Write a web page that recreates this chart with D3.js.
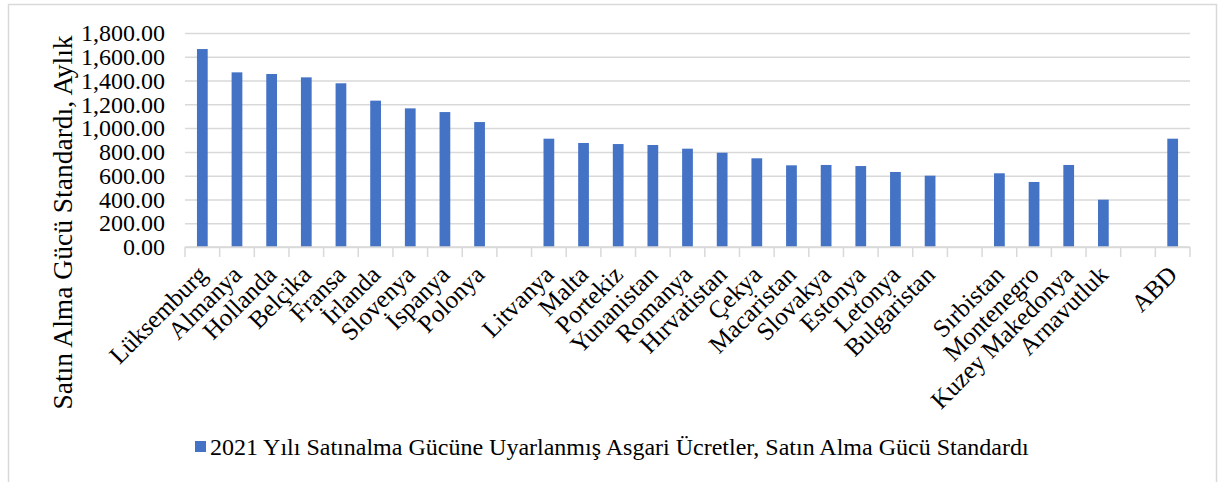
<!DOCTYPE html>
<html>
<head>
<meta charset="utf-8">
<script src="https://cdn.jsdelivr.net/npm/d3@7"></script>
<style>
  body { margin: 0; background: #fff; }
</style>
</head>
<body>
<div id="chart"></div>
<script>
// countries, with empty slots where the original leaves gaps between groups
var countries = ["Lüksemburg", "Almanya", "Hollanda", "Belçika", "Fransa", "İrlanda", "Slovenya", "İspanya", "Polonya", "",
  "Litvanya", "Malta", "Portekiz", "Yunanistan", "Romanya", "Hırvatistan", "Çekya", "Macaristan", "Slovakya", "Estonya", "Letonya", "Bulgaristan", "",
  "Sırbistan", "Montenegro", "Kuzey Makedonya", "Arnavutluk", "",
  "ABD"];
var wages = [1665, 1469, 1455, 1427, 1377, 1231, 1166, 1135, 1051, null,
  911, 875, 866, 858, 827, 793, 746, 687, 690, 681, 631, 600, null,
  620, 547, 690, 398, null,
  911];
var yTicks = [0, 200, 400, 600, 800, 1000, 1200, 1400, 1600, 1800];
var seriesName = "2021 Yılı Satınalma Gücüne Uyarlanmış Asgari Ücretler, Satın Alma Gücü Standardı";
var yTitle = "Satın Alma Gücü Standardı, Aylık";

var W = 1219, H = 482;
var plotLeft = 185, plotRight = 1190, plotTop = 33, plotBottom = 247;
var barColor = "#4472c4", gridColor = "#d9d9d9";
var serif = "'Liberation Serif', 'Times New Roman', serif";

var svg = d3.select("#chart").append("svg")
  .attr("width", W)
  .attr("height", H);

// chart frame (bottom runs past the picture)
svg.append("rect")
  .attr("x", 8.5).attr("y", 4.5)
  .attr("width", 1208).attr("height", 500)
  .style("fill", "#fff")
  .style("stroke", gridColor)
  .style("stroke-width", 1.5);

var x = d3.scaleBand()
  .domain(d3.range(countries.length))
  .range([plotLeft, plotRight])
  .paddingInner(0.69)
  .paddingOuter(0.345);

var y = d3.scaleLinear()
  .domain([0, 1800])
  .range([plotBottom, plotTop]);

// gridlines + y labels
var yAxis = svg.append("g")
  .attr("transform", "translate(" + plotLeft + ",0)")
  .call(d3.axisLeft(y).tickValues(yTicks).tickSize(-(plotRight - plotLeft)).tickPadding(20).tickFormat(d3.format(",.2f")));
yAxis.select(".domain").remove();
yAxis.selectAll("line").style("stroke", gridColor).style("stroke-width", 1.5);
yAxis.selectAll("text")
  .style("font-size", "24px")
  .style("font-family", serif)
  .attr("fill", "#000");

// bars
svg.append("g").selectAll("rect")
  .data(wages.map(function(v, i) { return {i: i, v: v}; }).filter(function(d) { return d.v != null; }))
  .enter().append("rect")
  .attr("x", function(d) { return x(d.i); })
  .attr("y", function(d) { return y(d.v); })
  .attr("width", x.bandwidth())
  .attr("height", function(d) { return y(0) - y(d.v); })
  .style("fill", barColor);

// x axis line and boundary ticks
var gap = (x.step() - x.bandwidth()) / 2;
svg.append("line")
  .attr("x1", plotLeft).attr("x2", plotRight)
  .attr("y1", plotBottom).attr("y2", plotBottom)
  .style("stroke", gridColor).style("stroke-width", 1.5);
svg.append("g").selectAll("line")
  .data(d3.range(countries.length + 1))
  .enter().append("line")
  .attr("x1", function(i) { return i < countries.length ? x(i) - gap : plotRight; })
  .attr("x2", function(i) { return i < countries.length ? x(i) - gap : plotRight; })
  .attr("y1", plotBottom).attr("y2", plotBottom + 10)
  .style("stroke", gridColor).style("stroke-width", 1.5);

// rotated category labels
svg.append("g").selectAll("text")
  .data(countries.map(function(c, i) { return {i: i, c: c}; }).filter(function(d) { return d.c !== ""; }))
  .enter().append("text")
  .attr("transform", function(d) {
    return "translate(" + (x(d.i) + x.bandwidth() / 2) + "," + (plotBottom + 23) + ") rotate(-45)";
  })
  .attr("text-anchor", "end")
  .attr("dy", "0.35em")
  .style("font-family", serif)
  .style("font-size", "25px")
  .text(function(d) { return d.c; });

// y axis title
svg.append("text")
  .attr("transform", "translate(72," + ((plotTop + 412) / 2) + ") rotate(-90)")
  .attr("text-anchor", "middle")
  .style("font-family", serif)
  .style("font-size", "27.5px")
  .text(yTitle);

// legend
svg.append("rect")
  .attr("x", 195).attr("y", 441)
  .attr("width", 11).attr("height", 11)
  .style("fill", barColor);
svg.append("text")
  .attr("x", 210).attr("y", 447)
  .attr("dy", "0.35em")
  .style("font-family", serif)
  .style("font-size", "24px")
  .text(seriesName);
</script>
</body>
</html>
